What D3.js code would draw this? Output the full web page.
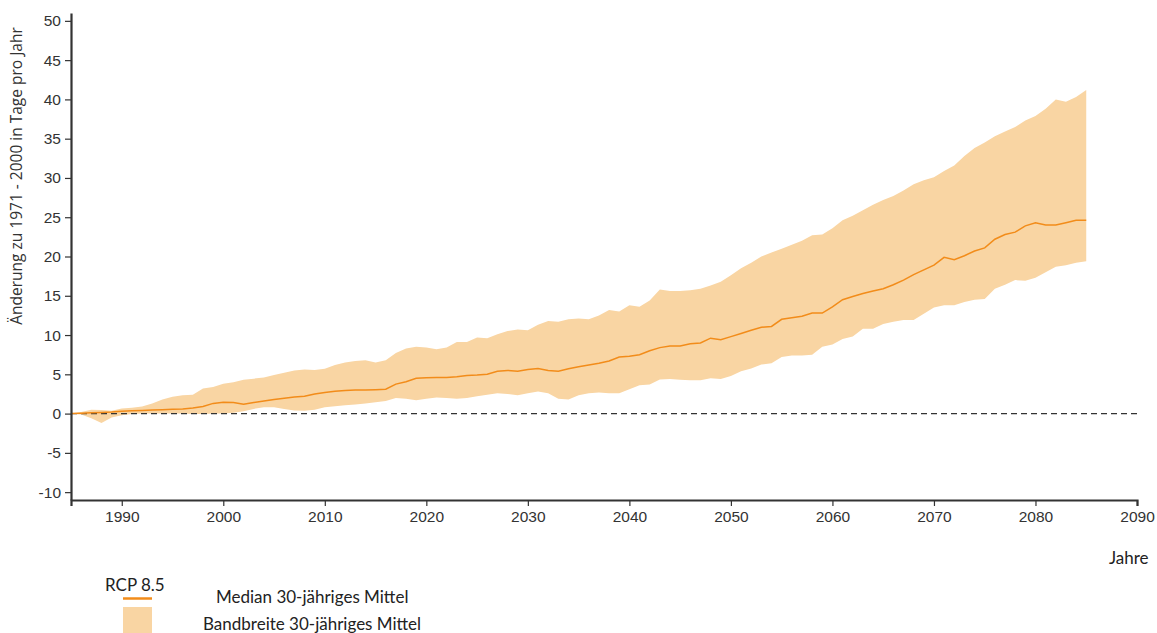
<!DOCTYPE html>
<html>
<head>
<meta charset="utf-8">
<script src="https://cdn.jsdelivr.net/npm/d3@7"></script>
<style>
  body { margin: 0; background: #fff; }
  .tick text { font-family: "Liberation Sans", Arial, sans-serif; font-size: 15.5px; fill: #333; }
  .legend { font-family: Lato, "Open Sans", sans-serif; font-size: 17px; fill: #222; }
</style>
</head>
<body>
<div id="chart"></div>
<script>
var width = 1157, height = 633;

// Jahre 1985 - 2085
var years = d3.range(1985, 2086);

var median = [0, 0.05, 0.1, 0.15, 0.2, 0.3, 0.35, 0.4, 0.45, 0.5,
  0.55, 0.6, 0.7, 0.9, 1.3, 1.45, 1.4, 1.2, 1.4, 1.6,
  1.8, 1.95, 2.1, 2.2, 2.5, 2.7, 2.85, 2.95, 3.0, 3.0,
  3.05, 3.1, 3.75, 4.05, 4.5, 4.55, 4.6, 4.6, 4.7, 4.85,
  4.9, 5.0, 5.4, 5.5, 5.4, 5.6, 5.75, 5.5, 5.4, 5.7,
  5.95, 6.2, 6.4, 6.7, 7.2, 7.3, 7.5, 8.0, 8.4, 8.6,
  8.6, 8.9, 9.0, 9.6, 9.4, 9.8, 10.2, 10.6, 11.0, 11.1,
  12.0, 12.2, 12.4, 12.8, 12.8, 13.6, 14.5, 14.9, 15.3, 15.6,
  15.9, 16.4, 17.0, 17.7, 18.3, 18.9, 19.9, 19.6, 20.1, 20.7,
  21.1, 22.2, 22.8, 23.1, 23.9, 24.3, 24.0, 24.0, 24.3, 24.6,
  24.6];

var lower = [0, -0.1, -0.6, -1.2, -0.5, -0.2, -0.05, 0, 0, 0,
  0, 0, -0.05, -0.05, 0, 0, 0.1, 0.3, 0.6, 0.8,
  0.8, 0.6, 0.4, 0.35, 0.5, 0.8, 0.95, 1.05, 1.15, 1.3,
  1.45, 1.6, 2.0, 1.9, 1.7, 1.9, 2.05, 2.0, 1.9, 2.0,
  2.2, 2.4, 2.6, 2.5, 2.35, 2.6, 2.8, 2.6, 1.9, 1.8,
  2.35, 2.6, 2.7, 2.6, 2.6, 3.1, 3.6, 3.7, 4.35, 4.4,
  4.3, 4.25, 4.25, 4.5, 4.4, 4.8, 5.4, 5.75, 6.25, 6.4,
  7.2, 7.4, 7.4, 7.5, 8.5, 8.8, 9.5, 9.8, 10.8, 10.8,
  11.4, 11.7, 11.9, 11.9, 12.7, 13.5, 13.8, 13.8, 14.2, 14.5,
  14.6, 15.9, 16.4, 17.0, 16.9, 17.3, 18.0, 18.7, 18.9, 19.2,
  19.4];

var upper = [0, 0.2, 0.5, 0.45, 0.35, 0.65, 0.75, 0.9, 1.3, 1.8,
  2.15, 2.35, 2.4, 3.2, 3.4, 3.8, 4.0, 4.3, 4.45, 4.6,
  4.9, 5.2, 5.5, 5.6, 5.55, 5.7, 6.2, 6.5, 6.7, 6.8,
  6.5, 6.8, 7.7, 8.3, 8.5, 8.4, 8.2, 8.4, 9.1, 9.1,
  9.7, 9.6, 10.1, 10.5, 10.7, 10.6, 11.3, 11.8, 11.7, 12.0,
  12.1, 12.0, 12.5, 13.2, 13.0, 13.8, 13.6, 14.4, 15.8, 15.6,
  15.6, 15.7, 15.9, 16.3, 16.8, 17.6, 18.5, 19.2, 20.0, 20.5,
  21.0, 21.5, 22.0, 22.7, 22.8, 23.6, 24.6, 25.2, 25.9, 26.6,
  27.2, 27.7, 28.4, 29.2, 29.7, 30.1, 30.9, 31.6, 32.8, 33.8,
  34.5, 35.3, 35.9, 36.5, 37.3, 37.9, 38.8, 40.0, 39.7, 40.3,
  41.2];

var xTicks = d3.range(1990, 2091, 10);
var yTicks = d3.range(-10, 51, 5);

var data = years.map(function(y, i) {
  return {year: y, median: median[i], lower: lower[i], upper: upper[i]};
});

var x = d3.scaleLinear().domain([1985, 2090]).range([71, 1137]);
var y = d3.scaleLinear().domain([-11, 51]).range([500, 13]);

var svg = d3.select('#chart')
  .append('svg')
  .attr('width', width)
  .attr('height', height);

// Bandbreite
svg.append('path')
  .datum(data)
  .attr('fill', '#f9d5a3')
  .attr('d', d3.area()
    .x(function(d) { return x(d.year); })
    .y0(function(d) { return y(d.lower); })
    .y1(function(d) { return y(d.upper); }));

// Nulllinie
svg.append('line')
  .attr('x1', x(1985))
  .attr('x2', x(2090))
  .attr('y1', y(0))
  .attr('y2', y(0))
  .attr('stroke', '#333')
  .attr('stroke-width', 1.3)
  .attr('stroke-dasharray', '6,4');

// Median
svg.append('path')
  .datum(data)
  .attr('fill', 'none')
  .attr('stroke', '#f28c1a')
  .attr('stroke-width', 1.5)
  .attr('d', d3.line()
    .x(function(d) { return x(d.year); })
    .y(function(d) { return y(d.median); }));

// Achsen
var plain = function(d) { return String(d); };

var yAxis = svg.append('g')
  .attr('transform', 'translate(' + x(1985) + ',0)')
  .call(d3.axisLeft(y).tickValues(yTicks).tickFormat(plain).tickSizeOuter(0).tickPadding(4));

var xAxis = svg.append('g')
  .attr('transform', 'translate(0,' + y(-11) + ')')
  .call(d3.axisBottom(x).tickValues(xTicks).tickFormat(plain).tickSizeOuter(6).tickPadding(5));

[yAxis, xAxis].forEach(function(ax) {
  ax.select('.domain').attr('stroke', '#333').attr('stroke-width', 2.2);
  ax.selectAll('.tick line').attr('stroke', '#333').attr('stroke-width', 1.2);
});

svg.append('text')
  .attr('transform', 'translate(22,176) rotate(-90)')
  .attr('text-anchor', 'middle')
  .style('font-family', '"Open Sans", sans-serif')
  .style('font-size', '15.5px')
  .style('fill', '#333')
  .text('Änderung zu 1971 - 2000 in Tage pro Jahr');

svg.append('text')
  .attr('class', 'legend')
  .attr('x', 1109)
  .attr('y', 564)
  .text('Jahre');

// Legende
svg.append('text')
  .attr('class', 'legend')
  .attr('x', 105)
  .attr('y', 591)
  .text('RCP 8.5');

svg.append('line')
  .attr('x1', 123).attr('x2', 152)
  .attr('y1', 598.5).attr('y2', 598.5)
  .attr('stroke', '#f28c1a')
  .attr('stroke-width', 2.5);

svg.append('rect')
  .attr('x', 123).attr('y', 607)
  .attr('width', 29).attr('height', 30)
  .attr('fill', '#f9d5a3');

svg.append('text')
  .attr('class', 'legend')
  .attr('x', 216)
  .attr('y', 603)
  .text('Median 30-jähriges Mittel');

svg.append('text')
  .attr('class', 'legend')
  .attr('x', 203)
  .attr('y', 630)
  .text('Bandbreite 30-jähriges Mittel');
</script>
</body>
</html>
